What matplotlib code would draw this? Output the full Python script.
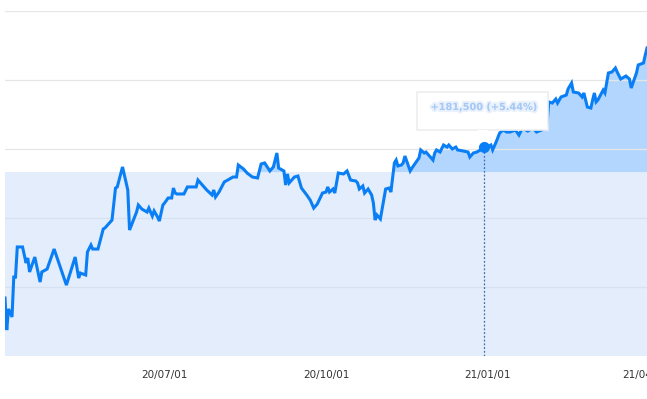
import numpy as np
import pandas as pd
import matplotlib
matplotlib.use("Agg")
from matplotlib import pyplot as plt
import matplotlib.dates as mdates
import matplotlib.patheffects as pe
from matplotlib.patches import FancyBboxPatch, Polygon

# price history
dates = [
    "2020-04-01", "2020-04-02", "2020-04-03", "2020-04-05", "2020-04-06", "2020-04-07",
    "2020-04-08", "2020-04-11", "2020-04-13", "2020-04-14", "2020-04-15", "2020-04-18",
    "2020-04-21", "2020-04-22", "2020-04-25", "2020-04-29", "2020-05-06", "2020-05-11",
    "2020-05-13", "2020-05-14", "2020-05-17", "2020-05-18", "2020-05-20", "2020-05-21",
    "2020-05-24", "2020-05-27", "2020-05-28", "2020-06-01", "2020-06-03", "2020-06-04",
    "2020-06-07", "2020-06-10", "2020-06-11", "2020-06-15", "2020-06-16", "2020-06-18",
    "2020-06-21", "2020-06-22", "2020-06-24", "2020-06-25", "2020-06-27", "2020-06-28",
    "2020-06-30", "2020-07-01", "2020-07-03", "2020-07-05", "2020-07-06", "2020-07-07",
    "2020-07-08", "2020-07-12", "2020-07-14", "2020-07-19", "2020-07-20", "2020-07-25",
    "2020-07-28", "2020-07-29", "2020-07-30", "2020-08-01", "2020-08-04", "2020-08-09",
    "2020-08-11", "2020-08-12", "2020-08-15", "2020-08-17", "2020-08-20", "2020-08-23",
    "2020-08-25", "2020-08-27", "2020-08-30", "2020-09-01", "2020-09-03", "2020-09-04",
    "2020-09-07", "2020-09-08", "2020-09-09", "2020-09-10", "2020-09-13", "2020-09-15",
    "2020-09-17", "2020-09-20", "2020-09-22", "2020-09-24", "2020-09-26", "2020-09-29",
    "2020-10-01", "2020-10-02", "2020-10-03", "2020-10-05", "2020-10-06", "2020-10-07",
    "2020-10-08", "2020-10-11", "2020-10-13", "2020-10-15", "2020-10-18", "2020-10-19",
    "2020-10-20", "2020-10-22", "2020-10-23", "2020-10-25", "2020-10-27", "2020-10-28",
    "2020-10-29", "2020-10-30", "2020-11-01", "2020-11-04", "2020-11-06", "2020-11-07",
    "2020-11-09", "2020-11-10", "2020-11-11", "2020-11-13", "2020-11-14", "2020-11-15",
    "2020-11-18", "2020-11-19", "2020-11-21", "2020-11-23", "2020-11-24", "2020-11-26",
    "2020-11-27", "2020-12-01", "2020-12-02", "2020-12-03", "2020-12-05", "2020-12-07",
    "2020-12-09", "2020-12-10", "2020-12-12", "2020-12-14", "2020-12-15", "2020-12-18",
    "2020-12-21", "2020-12-22", "2020-12-24", "2020-12-26", "2020-12-28", "2020-12-30",
    "2021-01-01", "2021-01-03", "2021-01-04", "2021-01-06", "2021-01-08", "2021-01-10",
    "2021-01-12", "2021-01-14", "2021-01-17", "2021-01-19", "2021-01-21", "2021-01-24",
    "2021-01-27", "2021-01-29", "2021-02-01", "2021-02-04", "2021-02-05", "2021-02-07",
    "2021-02-09", "2021-02-10", "2021-02-12", "2021-02-15", "2021-02-16", "2021-02-18",
    "2021-02-19", "2021-02-22", "2021-02-24", "2021-02-25", "2021-02-27", "2021-03-01",
    "2021-03-02", "2021-03-03", "2021-03-04", "2021-03-05", "2021-03-08", "2021-03-09",
    "2021-03-11", "2021-03-13", "2021-03-15", "2021-03-16", "2021-03-18", "2021-03-21",
    "2021-03-23", "2021-03-24", "2021-03-27", "2021-03-28", "2021-03-31", "2021-04-01",
    "2021-04-02",
]
prices = [
    2420, 2188, 2341, 2283, 2572, 2572,
    2790, 2790, 2674, 2710, 2609, 2717,
    2536, 2609, 2630, 2775, 2514, 2717,
    2565, 2601, 2587, 2754, 2804, 2775,
    2775, 2920, 2928, 2985, 3217, 3225,
    3370, 3203, 2913, 3043, 3094, 3065,
    3043, 3072, 3014, 3051, 3007, 2978,
    3094, 3109, 3145, 3145, 3217, 3181,
    3174, 3174, 3225, 3225, 3275, 3203,
    3167, 3203, 3152, 3188, 3261, 3297,
    3297, 3384, 3355, 3326, 3297, 3290,
    3391, 3399, 3341, 3370, 3471, 3362,
    3341, 3239, 3319, 3254, 3297, 3304,
    3217, 3167, 3130, 3072, 3101, 3181,
    3188, 3225, 3188, 3210, 3181, 3254,
    3326, 3319, 3341, 3275, 3268, 3254,
    3210, 3232, 3181, 3210, 3167, 3109,
    2985, 3022, 2993, 3210, 3217, 3188,
    3399, 3420, 3377, 3384, 3399, 3449,
    3341, 3362, 3399, 3435, 3493, 3471,
    3478, 3420, 3471, 3493, 3478, 3529,
    3514, 3529, 3500, 3514, 3493, 3486,
    3478, 3442, 3471, 3478, 3493, 3514,
    3514, 3529, 3493, 3551, 3616, 3638,
    3623, 3623, 3638, 3601, 3652, 3630,
    3652, 3623, 3638, 3674, 3841, 3833,
    3862, 3833, 3877, 3891, 3935, 3978,
    3913, 3906, 3877, 3906, 3804, 3797,
    3855, 3906, 3841, 3855, 3927, 3906,
    4051, 4058, 4087, 4058, 4007, 4029,
    4007, 3942, 4051, 4109, 4123, 4181,
    4232,
]
base_price = 3333
hover_date = "2020-12-30"
tooltip_text = "+181,500 (+5.44%)"
tick_dates = ["2020-07-01", "2020-10-01", "2021-01-01", "2021-04-01"]

line_c = "#0a7ff5"
x = pd.to_datetime(dates)
y = np.array(prices)

fig = plt.figure(figsize=(6.47, 3.99), dpi=100)
ax = fig.add_axes([5 / 647, 43 / 399, 642 / 647, 345 / 399])

ax.axhspan(2000, base_price, color="#e3edfb", lw=0, zorder=0)
ax.fill_between(x, base_price, y, where=y > base_price, interpolate=True,
                color="#b3d6fe", lw=0, zorder=1)
ax.plot(x, y, color=line_c, lw=2.2, solid_joinstyle="miter", zorder=4)

for g in [2500, 3000, 3500, 4000, 4500]:
    c = "#e6e6e6" if g > base_price else "#d7e1ef"
    ax.axhline(g, color=c, lw=0.9, zorder=2)

hx = pd.Timestamp(hover_date)
hy = y[list(x).index(hx)]
ax.plot([hx, hx], [2000, hy], color="#3a6fb0", lw=0.9, ls=(0, (1.5, 1.5)), zorder=3)
ax.plot([hx], [hy], "o", color=line_c, ms=7, zorder=5)

ax.set_xlim(x[0], x[-1])
ax.set_ylim(2000, 4500)
ax.set_yticks([])
ax.set_xticks(pd.to_datetime(tick_dates))
ax.xaxis.set_major_formatter(mdates.DateFormatter("%y/%m/%d"))
ax.tick_params(axis="x", length=0, pad=10, labelsize=7.5, labelcolor="#333333")
for s in ax.spines.values():
    s.set_visible(False)

# tooltip box
box = FancyBboxPatch((417 / 647, (399 - 130) / 399), 131 / 647, 38 / 399,
                     boxstyle="square,pad=0", transform=fig.transFigure,
                     facecolor="white", edgecolor="#eeeeee", lw=1.2, zorder=10)
fig.patches.append(box)
tri = Polygon([(477 / 647, (399 - 130) / 399), (489 / 647, (399 - 130) / 399),
               (483 / 647, (399 - 136) / 399)], closed=True, transform=fig.transFigure,
              facecolor="white", edgecolor="none", zorder=11)
fig.patches.append(tri)
fig.text(484 / 647, (399 - 107) / 399, tooltip_text, ha="center", va="center",
         fontsize=7, color="#9cc2f5", fontweight="bold", alpha=0.8, zorder=12,
         path_effects=[pe.withStroke(linewidth=3, foreground="#dbe8fb", alpha=0.6)])

fig.savefig("out.png", dpi=100)
